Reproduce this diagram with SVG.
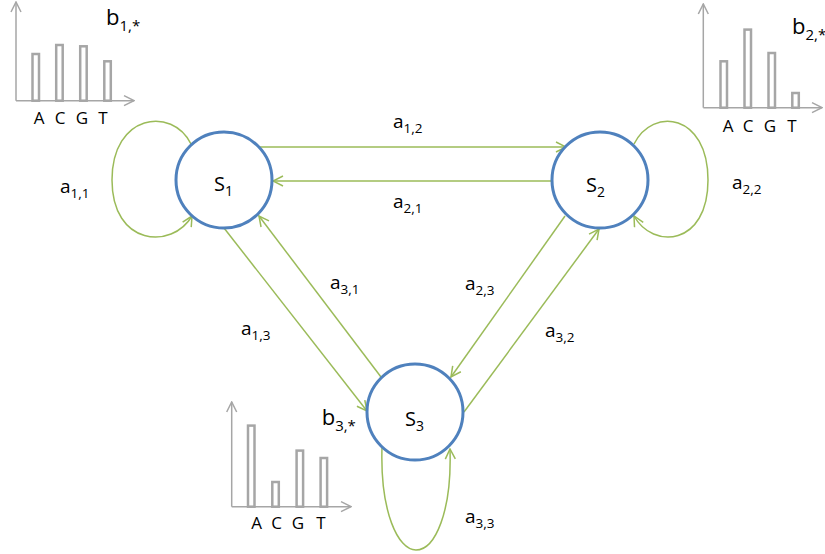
<svg xmlns="http://www.w3.org/2000/svg" width="825" height="554" viewBox="0 0 825 554">
<style>
.node{fill:#fff;stroke:#4f81bd;stroke-width:3}
.edge{fill:none;stroke:#9bbb59;stroke-width:1.5;marker-end:url(#ga)}
.axis{fill:none;stroke:#a6a6a6;stroke-width:1.5;marker-end:url(#gr)}
.bar{fill:none;stroke:#a6a6a6;stroke-width:2.5}
text{font-family:"Open Sans","Noto Sans","Liberation Sans",sans-serif;fill:#000}
.lbl{font-size:19px}
.sub{font-size:13.5px}
.st{font-size:20px}
.ssub{font-size:14px}
.bl{font-size:22px}
.bsub{font-size:15px}
.acgt{font-size:17px;text-anchor:middle}
</style>
<defs>
<marker id="ga" viewBox="0 0 12 12" refX="11" refY="6" markerWidth="12" markerHeight="12" orient="auto" markerUnits="userSpaceOnUse">
<path d="M1,1 L11,6 L1,11" fill="none" stroke="#9bbb59" stroke-width="1.5"/>
</marker>
<marker id="gr" viewBox="0 0 12 12" refX="11" refY="6" markerWidth="12" markerHeight="12" orient="auto" markerUnits="userSpaceOnUse">
<path d="M1,1 L11,6 L1,11" fill="none" stroke="#a6a6a6" stroke-width="1.5"/>
</marker>
</defs>

<g id="hist1">
<path class="axis" d="M16,100.7 L16,2"/>
<path class="axis" d="M16,100.7 L134,100.7"/>
<rect class="bar" x="32.5" y="54" width="6.5" height="46.7"/>
<rect class="bar" x="56.2" y="45" width="6.5" height="55.7"/>
<rect class="bar" x="80.2" y="46.3" width="6.5" height="54.4"/>
<rect class="bar" x="104.3" y="61.3" width="6.5" height="39.4"/>
<text class="acgt" x="39" y="124">A</text>
<text class="acgt" x="60" y="124">C</text>
<text class="acgt" x="82" y="124">G</text>
<text class="acgt" x="103" y="124">T</text>
<text class="bl" x="106" y="25">b<tspan class="bsub" dy="6">1,*</tspan></text>
</g>

<g id="hist2">
<path class="axis" d="M703.3,107.7 L703.3,4"/>
<path class="axis" d="M703.3,107.7 L822,107.7"/>
<rect class="bar" x="720.5" y="61.3" width="6.5" height="46.4"/>
<rect class="bar" x="744.5" y="29.6" width="6.5" height="78.1"/>
<rect class="bar" x="768.5" y="53" width="6.5" height="54.7"/>
<rect class="bar" x="792.3" y="93" width="6.5" height="14.7"/>
<text class="acgt" x="728" y="132">A</text>
<text class="acgt" x="748" y="132">C</text>
<text class="acgt" x="770" y="132">G</text>
<text class="acgt" x="792" y="132">T</text>
<text class="bl" x="792" y="34">b<tspan class="bsub" dy="6">2,*</tspan></text>
</g>

<g id="hist3">
<path class="axis" d="M231.7,506.7 L231.7,402"/>
<path class="axis" d="M231.7,506.7 L351,506.7"/>
<rect class="bar" x="248" y="425.6" width="6.5" height="81.1"/>
<rect class="bar" x="272.3" y="482" width="6.5" height="24.7"/>
<rect class="bar" x="296.6" y="450.6" width="6.5" height="56.1"/>
<rect class="bar" x="320.6" y="458" width="6.5" height="48.7"/>
<text class="acgt" x="256.7" y="529.3">A</text>
<text class="acgt" x="276.7" y="529.3">C</text>
<text class="acgt" x="298" y="529.3">G</text>
<text class="acgt" x="321" y="529.3">T</text>
<text class="bl" x="321.7" y="425">b<tspan class="bsub" dy="6">3,*</tspan></text>
</g>

<g id="connectors">
<path class="edge" d="M259,147 L566,147"/>
<path class="edge" d="M552,181 L273,181"/>
<path class="edge" d="M224,228 L367,411"/>
<path class="edge" d="M381,377 L259,216"/>
<path class="edge" d="M565,216 L451,377"/>
<path class="edge" d="M464,412 L599,229"/>
<path class="edge" d="M191,144 C 172,106 112,114 112,180 C 112,246 172,250 192,216"/>
<path class="edge" d="M634,144 C 653,106 708,114 708,180 C 708,246 653,250 634,216"/>
<path class="edge" d="M382,447 C 380,512 398,550 416,550 C 435,550 452,512 450,449"/>
<text class="lbl" x="393" y="128">a<tspan class="sub" dy="5">1,2</tspan></text>
<text class="lbl" x="393" y="208">a<tspan class="sub" dy="5">2,1</tspan></text>
<text class="lbl" x="60" y="193">a<tspan class="sub" dy="5">1,1</tspan></text>
<text class="lbl" x="732" y="189">a<tspan class="sub" dy="5">2,2</tspan></text>
<text class="lbl" x="330" y="289">a<tspan class="sub" dy="5">3,1</tspan></text>
<text class="lbl" x="241" y="335">a<tspan class="sub" dy="5">1,3</tspan></text>
<text class="lbl" x="465" y="290">a<tspan class="sub" dy="5">2,3</tspan></text>
<text class="lbl" x="545" y="337">a<tspan class="sub" dy="5">3,2</tspan></text>
<text class="lbl" x="465" y="523">a<tspan class="sub" dy="5">3,3</tspan></text>
</g>

<g id="S1">
<circle class="node" cx="224" cy="180" r="48"/>
<text class="st" x="214" y="191">S<tspan class="ssub" dy="5">1</tspan></text>
</g>
<g id="S2">
<circle class="node" cx="600" cy="180" r="48"/>
<text class="st" x="586" y="192">S<tspan class="ssub" dy="5">2</tspan></text>
</g>
<g id="S3">
<circle class="node" cx="415" cy="412" r="48"/>
<text class="st" x="405" y="426">S<tspan class="ssub" dy="5">3</tspan></text>
</g>
</svg>
